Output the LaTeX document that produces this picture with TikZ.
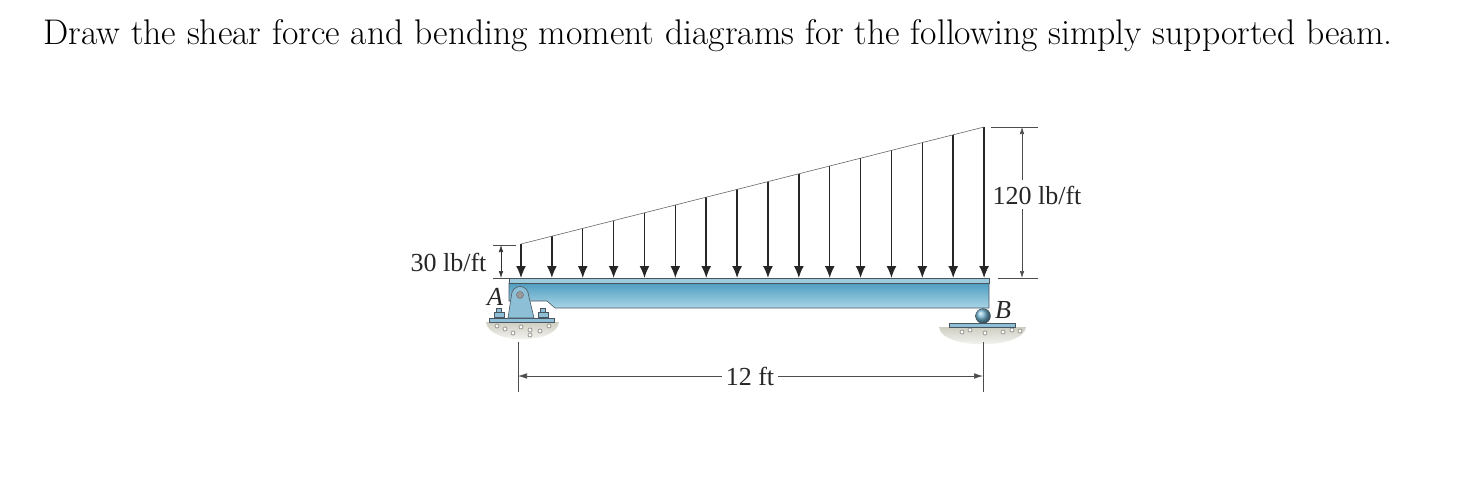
\documentclass[tikz,border=0pt]{standalone}
\usepackage{fontspec}
\newfontfamily\labelfont{Liberation Serif}
\usetikzlibrary{arrows.meta}
\definecolor{beamdark}{HTML}{4F9DC0}
\definecolor{beamlight}{HTML}{A9D5E6}
\definecolor{flange}{HTML}{9CCBDD}
\definecolor{steel}{HTML}{8DBFD6}
\definecolor{edgegray}{HTML}{4A5560}
\definecolor{gravel}{HTML}{CFCEC2}
\tikzset{
  load/.style={-{Latex[length=12pt,width=10pt]}, line width=1.5pt, black!85},
  dim/.style={line width=0.6pt, black!70},
  dimtip/.style={{Latex[length=7pt,width=4.5pt]}-{Latex[length=7pt,width=4.5pt]}, line width=0.6pt, black!80},
  part/.style={draw=edgegray, line width=0.6pt},
  lab/.style={inner sep=0pt, font=\labelfont\fontsize{26}{26}\selectfont, text=black!85},
  labit/.style={inner sep=0pt, font=\labelfont\itshape\fontsize{26}{26}\selectfont, text=black!85},
  pebble/.style={draw=gravel!70!black, line width=0.7pt, fill=white}
}
\begin{document}
\begin{tikzpicture}[x=1pt,y=-1pt]
\useasboundingbox (0,0) rectangle (1467,482);
\node[inner sep=0pt, anchor=base west, font=\fontsize{35.65}{36}\selectfont] (title) at (43,44)
  {Draw the shear force and bending moment diagrams for the following simply supported beam.};
% ground
\shade[top color=gravel, bottom color=white] (486,322) .. controls (488,345) and (557,345) .. (559,322) -- cycle;
\shade[top color=gravel, bottom color=white] (939,327) .. controls (941,350) and (1024,350) .. (1026,327) -- cycle;
\foreach \px/\py in {497/326,505/329,521/327,530/330,540/331,549/326,513/333,530/335,962/332,970/330,985/333,1003/332,1012/330,1020/331}
  \draw[pebble] (\px,\py) circle (2pt);
% beam
\path[part, top color=beamdark, bottom color=beamlight]
  (509,283) -- (989,283) -- (989,308) -- (555,308) -- (547,301) -- (509,301) -- cycle;
\path[part, fill=flange] (509,278) rectangle (989,283);
% pin at A
\path[part, fill=steel] (489,318) rectangle (554,322);
\foreach \bx/\bn in {499/boltl,543/boltr} {
  \node[part, fill=steel, minimum width=10pt, minimum height=5pt, inner sep=0pt] (\bn) at (\bx,315) {};
  \node[part, fill=steel, minimum width=5pt, minimum height=4pt, inner sep=0pt] at (\bx,310.5) {};
}
\path[part, fill=steel] (508,318) -- (511.5,295) arc[start angle=180, end angle=360, radius=8.5] -- (534,318) -- cycle;
\node[circle, draw=black!60, fill=black!40, minimum size=7pt, inner sep=0pt] (pinA) at (520,295) {};
% roller at B
\path[part, fill=steel] (949,323) rectangle (1015,327);
\node[circle, draw=edgegray, ball color=beamlight!40!beamdark, minimum size=15pt, inner sep=0pt] (rollB) at (983,316) {};
% distributed load
\foreach \i in {0,...,15} {
  \coordinate (top\i) at ({521+30.87*\i},{244-7.8*\i});
  \coordinate (tip\i) at ({521+30.87*\i},278);
  \draw[load] (top\i) -- (tip\i);
}
\draw[line width=0.6pt, black!60] (top0) -- (top15);
% dimensions
\coordinate (a1) at (493,245); \coordinate (a2) at (516,245);
\coordinate (a3) at (493,278); \coordinate (a4) at (509,278);
\draw[dim] (a1) -- (a2);
\draw[dim] (a3) -- (a4);
\coordinate (a5) at (501,245); \coordinate (a6) at (501,278);
\draw[dimtip] (a5) -- (a6);
\node[lab] (q0) at (448.5,262) {30 lb/ft};
\node[labit] (labA) at (495,297) {A};
\node[labit] (labB) at (1003,310) {B};
\coordinate (b1) at (991,127); \coordinate (b2) at (1038,127);
\coordinate (b3) at (998,278); \coordinate (b4) at (1038,278);
\draw[dim] (b1) -- (b2);
\draw[dim] (b3) -- (b4);
\node[lab] (q1) at (1037,195) {120 lb/ft};
\coordinate (b5) at (1022,127); \coordinate (b6) at (1022,278);
\coordinate (b7) at (1022,180); \coordinate (b8) at (1022,209);
\draw[dim, {Latex[length=7pt,width=4.5pt]}-] (b5) -- (b7);
\draw[dim, -{Latex[length=7pt,width=4.5pt]}] (b8) -- (b6);
\coordinate (c1) at (518,342); \coordinate (c2) at (518,392);
\coordinate (c3) at (983,342); \coordinate (c4) at (983,392);
\draw[dim] (c1) -- (c2);
\draw[dim] (c3) -- (c4);
\node[lab, fill=white, inner xsep=4pt] (span) at (750,376) {12 ft};
\coordinate (c5) at (518,376); \coordinate (c6) at (983,376);
\draw[dim, {Latex[length=9pt,width=5.5pt]}-] (c5) -- (span);
\draw[dim, -{Latex[length=9pt,width=5.5pt]}] (span) -- (c6);
\end{tikzpicture}
\end{document}
